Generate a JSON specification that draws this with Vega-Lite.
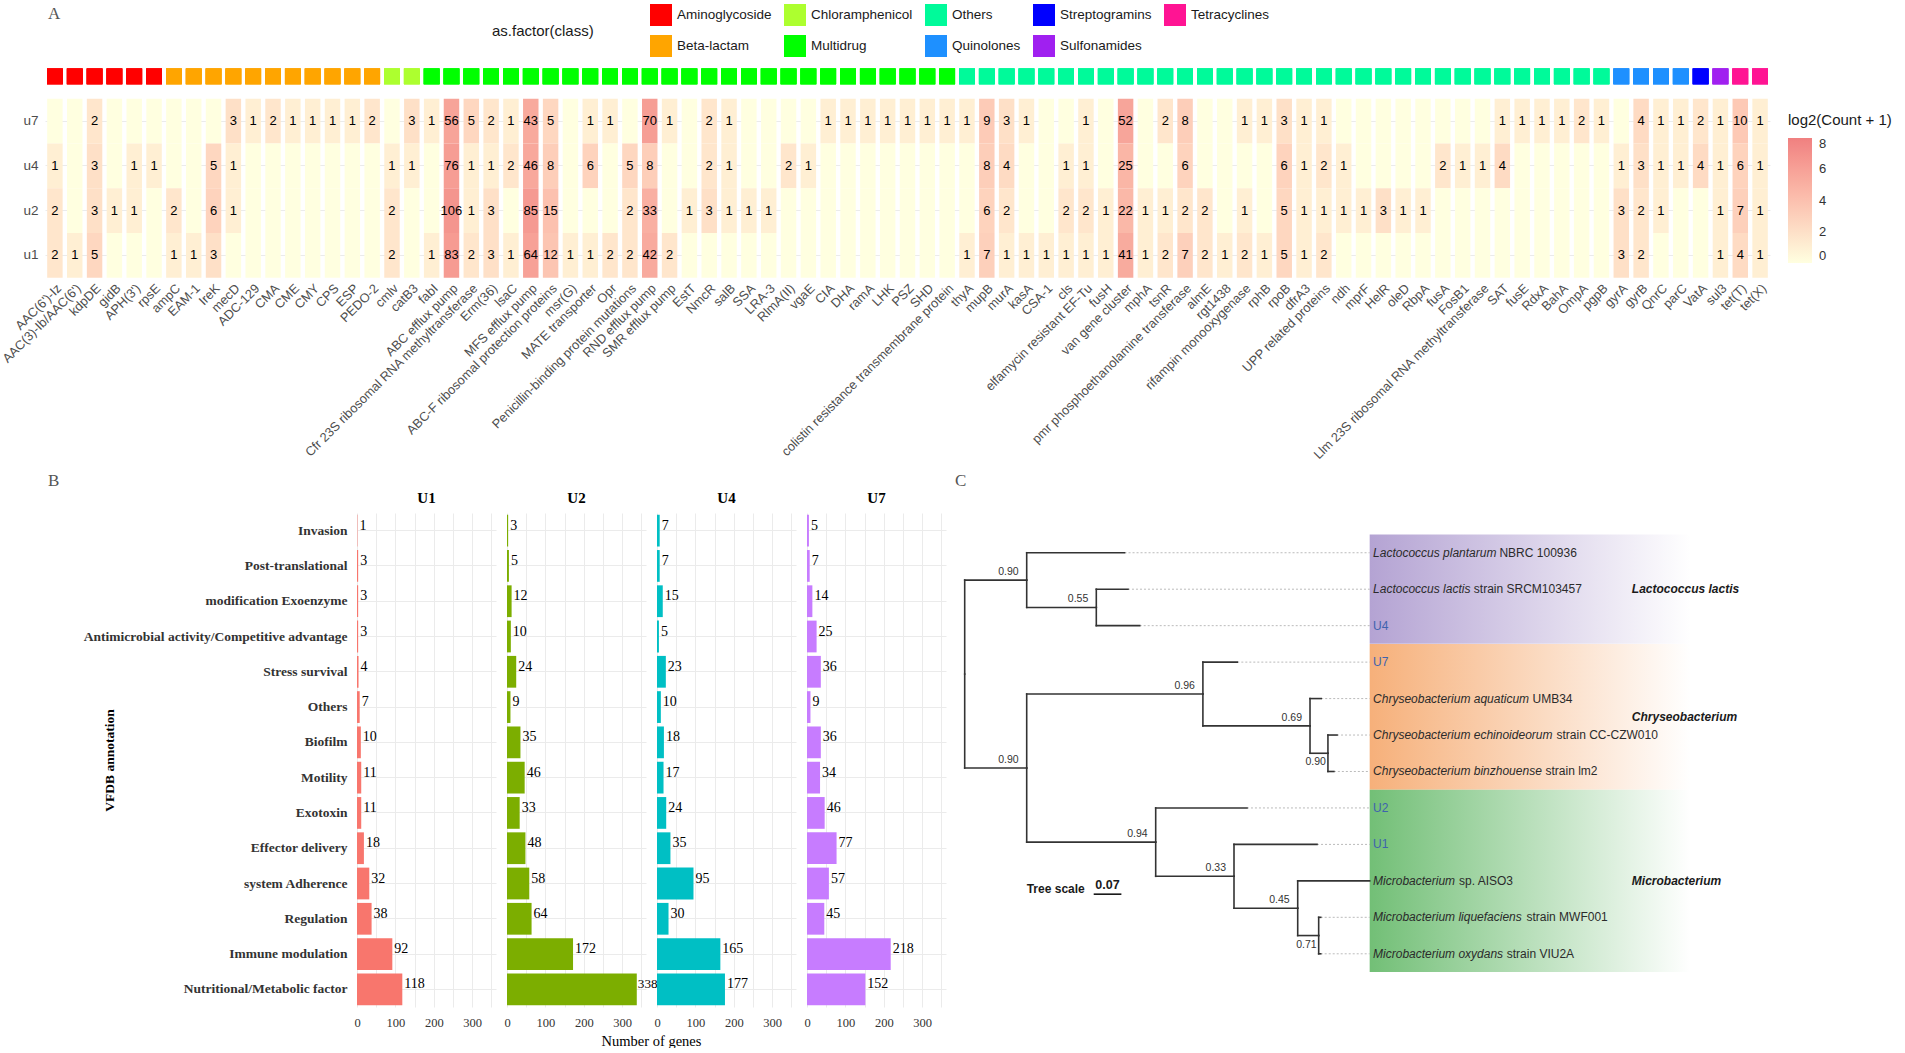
{
  "$schema": "https://vega.github.io/schema/vega-lite/v6.json",
  "background": "white",
  "padding": {"left": 0, "top": 4, "right": 0, "bottom": 0},
  "config": {
    "view": {"stroke": null},
    "font": "Liberation Sans"
  },
  "datasets": {
    "genes": [
      {"g": "AAC(6')-Iz", "c": "Aminoglycoside", "u7": 0, "u4": 1, "u2": 2, "u1": 2},
      {"g": "AAC(3)-Ib/AAC(6')", "c": "Aminoglycoside", "u7": 0, "u4": 0, "u2": 0, "u1": 1},
      {"g": "kdpDE", "c": "Aminoglycoside", "u7": 2, "u4": 3, "u2": 3, "u1": 5},
      {"g": "gidB", "c": "Aminoglycoside", "u7": 0, "u4": 0, "u2": 1, "u1": 0},
      {"g": "APH(3')", "c": "Aminoglycoside", "u7": 0, "u4": 1, "u2": 1, "u1": 0},
      {"g": "rpsE", "c": "Aminoglycoside", "u7": 0, "u4": 1, "u2": 0, "u1": 0},
      {"g": "ampC", "c": "Beta-lactam", "u7": 0, "u4": 0, "u2": 2, "u1": 1},
      {"g": "EAM-1", "c": "Beta-lactam", "u7": 0, "u4": 0, "u2": 0, "u1": 1},
      {"g": "IreK", "c": "Beta-lactam", "u7": 0, "u4": 5, "u2": 6, "u1": 3},
      {"g": "mecD", "c": "Beta-lactam", "u7": 3, "u4": 1, "u2": 1, "u1": 0},
      {"g": "ADC-129", "c": "Beta-lactam", "u7": 1, "u4": 0, "u2": 0, "u1": 0},
      {"g": "CMA", "c": "Beta-lactam", "u7": 2, "u4": 0, "u2": 0, "u1": 0},
      {"g": "CME", "c": "Beta-lactam", "u7": 1, "u4": 0, "u2": 0, "u1": 0},
      {"g": "CMY", "c": "Beta-lactam", "u7": 1, "u4": 0, "u2": 0, "u1": 0},
      {"g": "CPS", "c": "Beta-lactam", "u7": 1, "u4": 0, "u2": 0, "u1": 0},
      {"g": "ESP", "c": "Beta-lactam", "u7": 1, "u4": 0, "u2": 0, "u1": 0},
      {"g": "PEDO-2", "c": "Beta-lactam", "u7": 2, "u4": 0, "u2": 0, "u1": 0},
      {"g": "cmlv", "c": "Chloramphenicol", "u7": 0, "u4": 1, "u2": 2, "u1": 2},
      {"g": "catB3", "c": "Chloramphenicol", "u7": 3, "u4": 1, "u2": 0, "u1": 0},
      {"g": "fabI", "c": "Multidrug", "u7": 1, "u4": 0, "u2": 0, "u1": 1},
      {"g": "ABC efflux pump", "c": "Multidrug", "u7": 56, "u4": 76, "u2": 106, "u1": 83},
      {"g": "Cfr 23S ribosomal RNA methyltransferase", "c": "Multidrug", "u7": 5, "u4": 1, "u2": 1, "u1": 2},
      {"g": "Erm(36)", "c": "Multidrug", "u7": 2, "u4": 1, "u2": 3, "u1": 3},
      {"g": "lsaC", "c": "Multidrug", "u7": 1, "u4": 2, "u2": 0, "u1": 1},
      {"g": "MFS efflux pump", "c": "Multidrug", "u7": 43, "u4": 46, "u2": 85, "u1": 64},
      {"g": "ABC-F ribosomal protection proteins", "c": "Multidrug", "u7": 5, "u4": 8, "u2": 15, "u1": 12},
      {"g": "msr(G)", "c": "Multidrug", "u7": 0, "u4": 0, "u2": 0, "u1": 1},
      {"g": "MATE transporter", "c": "Multidrug", "u7": 1, "u4": 6, "u2": 0, "u1": 1},
      {"g": "Opr", "c": "Multidrug", "u7": 1, "u4": 0, "u2": 0, "u1": 2},
      {"g": "Penicillin-binding protein mutations", "c": "Multidrug", "u7": 0, "u4": 5, "u2": 2, "u1": 2},
      {"g": "RND efflux pump", "c": "Multidrug", "u7": 70, "u4": 8, "u2": 33, "u1": 42},
      {"g": "SMR efflux pump", "c": "Multidrug", "u7": 1, "u4": 0, "u2": 0, "u1": 2},
      {"g": "EstT", "c": "Multidrug", "u7": 0, "u4": 0, "u2": 1, "u1": 0},
      {"g": "NmcR", "c": "Multidrug", "u7": 2, "u4": 2, "u2": 3, "u1": 0},
      {"g": "salB", "c": "Multidrug", "u7": 1, "u4": 1, "u2": 1, "u1": 0},
      {"g": "SSA", "c": "Multidrug", "u7": 0, "u4": 0, "u2": 1, "u1": 0},
      {"g": "LRA-3", "c": "Multidrug", "u7": 0, "u4": 0, "u2": 1, "u1": 0},
      {"g": "RlmA(II)", "c": "Multidrug", "u7": 0, "u4": 2, "u2": 0, "u1": 0},
      {"g": "vgaE", "c": "Multidrug", "u7": 0, "u4": 1, "u2": 0, "u1": 0},
      {"g": "CIA", "c": "Multidrug", "u7": 1, "u4": 0, "u2": 0, "u1": 0},
      {"g": "DHA", "c": "Multidrug", "u7": 1, "u4": 0, "u2": 0, "u1": 0},
      {"g": "ramA", "c": "Multidrug", "u7": 1, "u4": 0, "u2": 0, "u1": 0},
      {"g": "LHK", "c": "Multidrug", "u7": 1, "u4": 0, "u2": 0, "u1": 0},
      {"g": "PSZ", "c": "Multidrug", "u7": 1, "u4": 0, "u2": 0, "u1": 0},
      {"g": "SHD", "c": "Multidrug", "u7": 1, "u4": 0, "u2": 0, "u1": 0},
      {"g": "colistin resistance transmembrane protein", "c": "Multidrug", "u7": 1, "u4": 0, "u2": 0, "u1": 0},
      {"g": "thyA", "c": "Others", "u7": 1, "u4": 0, "u2": 0, "u1": 1},
      {"g": "mupB", "c": "Others", "u7": 9, "u4": 8, "u2": 6, "u1": 7},
      {"g": "murA", "c": "Others", "u7": 3, "u4": 4, "u2": 2, "u1": 1},
      {"g": "kasA", "c": "Others", "u7": 1, "u4": 0, "u2": 0, "u1": 1},
      {"g": "CSA-1", "c": "Others", "u7": 0, "u4": 0, "u2": 0, "u1": 1},
      {"g": "cls", "c": "Others", "u7": 0, "u4": 1, "u2": 2, "u1": 1},
      {"g": "elfamycin resistant EF-Tu", "c": "Others", "u7": 1, "u4": 1, "u2": 2, "u1": 1},
      {"g": "fusH", "c": "Others", "u7": 0, "u4": 0, "u2": 1, "u1": 1},
      {"g": "van gene cluster", "c": "Others", "u7": 52, "u4": 25, "u2": 22, "u1": 41},
      {"g": "mphA", "c": "Others", "u7": 0, "u4": 0, "u2": 1, "u1": 1},
      {"g": "tsnR", "c": "Others", "u7": 2, "u4": 0, "u2": 1, "u1": 2},
      {"g": "pmr phosphoethanolamine transferase", "c": "Others", "u7": 8, "u4": 6, "u2": 2, "u1": 7},
      {"g": "almE", "c": "Others", "u7": 0, "u4": 0, "u2": 2, "u1": 2},
      {"g": "rgt1438", "c": "Others", "u7": 0, "u4": 0, "u2": 0, "u1": 1},
      {"g": "rifampin monooxygenase", "c": "Others", "u7": 1, "u4": 0, "u2": 1, "u1": 2},
      {"g": "rphB", "c": "Others", "u7": 1, "u4": 0, "u2": 0, "u1": 1},
      {"g": "rpoB", "c": "Others", "u7": 3, "u4": 6, "u2": 5, "u1": 5},
      {"g": "dfrA3", "c": "Others", "u7": 1, "u4": 1, "u2": 1, "u1": 1},
      {"g": "UPP related proteins", "c": "Others", "u7": 1, "u4": 2, "u2": 1, "u1": 2},
      {"g": "ndh", "c": "Others", "u7": 0, "u4": 1, "u2": 1, "u1": 0},
      {"g": "mprF", "c": "Others", "u7": 0, "u4": 0, "u2": 1, "u1": 0},
      {"g": "HelR", "c": "Others", "u7": 0, "u4": 0, "u2": 3, "u1": 0},
      {"g": "oleD", "c": "Others", "u7": 0, "u4": 0, "u2": 1, "u1": 0},
      {"g": "RbpA", "c": "Others", "u7": 0, "u4": 0, "u2": 1, "u1": 0},
      {"g": "fusA", "c": "Others", "u7": 0, "u4": 2, "u2": 0, "u1": 0},
      {"g": "FosB1", "c": "Others", "u7": 0, "u4": 1, "u2": 0, "u1": 0},
      {"g": "Llm 23S ribosomal RNA methyltransferase", "c": "Others", "u7": 0, "u4": 1, "u2": 0, "u1": 0},
      {"g": "SAT", "c": "Others", "u7": 1, "u4": 4, "u2": 0, "u1": 0},
      {"g": "fusE", "c": "Others", "u7": 1, "u4": 0, "u2": 0, "u1": 0},
      {"g": "RdxA", "c": "Others", "u7": 1, "u4": 0, "u2": 0, "u1": 0},
      {"g": "BahA", "c": "Others", "u7": 1, "u4": 0, "u2": 0, "u1": 0},
      {"g": "OmpA", "c": "Others", "u7": 2, "u4": 0, "u2": 0, "u1": 0},
      {"g": "pgpB", "c": "Others", "u7": 1, "u4": 0, "u2": 0, "u1": 0},
      {"g": "gyrA", "c": "Quinolones", "u7": 0, "u4": 1, "u2": 3, "u1": 3},
      {"g": "gyrB", "c": "Quinolones", "u7": 4, "u4": 3, "u2": 2, "u1": 2},
      {"g": "QnrC", "c": "Quinolones", "u7": 1, "u4": 1, "u2": 1, "u1": 0},
      {"g": "parC", "c": "Quinolones", "u7": 1, "u4": 1, "u2": 0, "u1": 0},
      {"g": "VatA", "c": "Streptogramins", "u7": 2, "u4": 4, "u2": 0, "u1": 0},
      {"g": "sul3", "c": "Sulfonamides", "u7": 1, "u4": 1, "u2": 1, "u1": 1},
      {"g": "tet(T)", "c": "Tetracyclines", "u7": 10, "u4": 6, "u2": 7, "u1": 4},
      {"g": "tet(X)", "c": "Tetracyclines", "u7": 1, "u4": 1, "u2": 1, "u1": 1}
    ],
    "vf": [
      {"cat": "Invasion", "U1": 1, "U2": 3, "U4": 7, "U7": 5},
      {"cat": "Post-translational", "U1": 3, "U2": 5, "U4": 7, "U7": 7},
      {"cat": "modification Exoenzyme", "U1": 3, "U2": 12, "U4": 15, "U7": 14},
      {"cat": "Antimicrobial activity/Competitive advantage", "U1": 3, "U2": 10, "U4": 5, "U7": 25},
      {"cat": "Stress survival", "U1": 4, "U2": 24, "U4": 23, "U7": 36},
      {"cat": "Others", "U1": 7, "U2": 9, "U4": 10, "U7": 9},
      {"cat": "Biofilm", "U1": 10, "U2": 35, "U4": 18, "U7": 36},
      {"cat": "Motility", "U1": 11, "U2": 46, "U4": 17, "U7": 34},
      {"cat": "Exotoxin", "U1": 11, "U2": 33, "U4": 24, "U7": 46},
      {"cat": "Effector delivery", "U1": 18, "U2": 48, "U4": 35, "U7": 77},
      {"cat": "system Adherence", "U1": 32, "U2": 58, "U4": 95, "U7": 57},
      {"cat": "Regulation", "U1": 38, "U2": 64, "U4": 30, "U7": 45},
      {"cat": "Immune modulation", "U1": 92, "U2": 172, "U4": 165, "U7": 218},
      {"cat": "Nutritional/Metabolic factor", "U1": 118, "U2": 338, "U4": 177, "U7": 152}
    ],
    "tree": [
      {"id": "root", "x": 0, "y": 3.328},
      {"id": "A", "parent": "root", "x": 0.1567, "y": 0.75, "support": 0.90},
      {"id": "B", "parent": "A", "x": 0.3326, "y": 1.5, "support": 0.55},
      {"id": "t0", "parent": "A", "x": 0.404, "y": 0, "sp": "Lactococcus plantarum", "st": "NBRC 100936", "clade": "Lactococcus lactis"},
      {"id": "t1", "parent": "B", "x": 0.4127, "y": 1, "sp": "Lactococcus lactis", "st": "strain SRCM103457", "clade": "Lactococcus lactis"},
      {"id": "t2", "parent": "B", "x": 0.4423, "y": 2, "smp": "U4", "clade": "Lactococcus lactis"},
      {"id": "C", "parent": "root", "x": 0.1567, "y": 5.906, "support": 0.90},
      {"id": "D", "parent": "C", "x": 0.602, "y": 3.875, "support": 0.96},
      {"id": "t3", "parent": "D", "x": 0.689, "y": 3, "smp": "U7", "clade": "Chryseobacterium"},
      {"id": "E", "parent": "D", "x": 0.8727, "y": 4.75, "support": 0.69},
      {"id": "t4", "parent": "E", "x": 0.901, "y": 4, "sp": "Chryseobacterium aquaticum", "st": "UMB34", "clade": "Chryseobacterium"},
      {"id": "F", "parent": "E", "x": 0.918, "y": 5.5, "support": 0.90},
      {"id": "t5", "parent": "F", "x": 0.941, "y": 5, "sp": "Chryseobacterium echinoideorum", "st": "strain CC-CZW010", "clade": "Chryseobacterium"},
      {"id": "t6", "parent": "F", "x": 0.933, "y": 6, "sp": "Chryseobacterium binzhouense", "st": "strain lm2", "clade": "Chryseobacterium"},
      {"id": "G", "parent": "C", "x": 0.4827, "y": 7.9375, "support": 0.94},
      {"id": "t7", "parent": "G", "x": 0.7134, "y": 7, "smp": "U2", "clade": "Microbacterium"},
      {"id": "H", "parent": "G", "x": 0.6806, "y": 8.875, "support": 0.33},
      {"id": "t8", "parent": "H", "x": 0.8904, "y": 8, "smp": "U1", "clade": "Microbacterium"},
      {"id": "I", "parent": "H", "x": 0.8416, "y": 9.75, "support": 0.45},
      {"id": "t9", "parent": "I", "x": 1.0235, "y": 9, "sp": "Microbacterium", "st": "sp. AISO3", "clade": "Microbacterium"},
      {"id": "J", "parent": "I", "x": 0.8946, "y": 10.5, "support": 0.71},
      {"id": "t10", "parent": "J", "x": 0.8997, "y": 10, "sp": "Microbacterium liquefaciens", "st": "strain MWF001", "clade": "Microbacterium"},
      {"id": "t11", "parent": "J", "x": 0.8997, "y": 11, "sp": "Microbacterium oxydans", "st": "strain VIU2A", "clade": "Microbacterium"}
    ]
  },
  "bounds": "flush",
  "spacing": 235,
  "vconcat": [
    {
      "width": 1725,
      "height": 223.75,
      "data": {"name": "genes"},
      "title": {"text": "A", "anchor": "start", "frame": "group", "font": "Liberation Serif", "fontSize": 17, "fontWeight": "normal", "color": "#555555", "dx": 3, "baseline": "bottom", "offset": 0, "dy": 36},
      "transform": [{"fold": ["u7", "u4", "u2", "u1"], "as": ["sample", "count"]}],
      "resolve": {"scale": {"color": "independent"}, "legend": {"color": "independent"}},
      "encoding": {
        "x": {
          "field": "g", "type": "nominal", "sort": null,
          "scale": {"paddingInner": 0.22, "paddingOuter": 0.11},
          "axis": {"title": null, "labelAngle": -45, "labelAlign": "right", "labelBaseline": "top", "labelFont": "Liberation Sans", "labelFontSize": 12.8, "labelColor": "#4D4D4D", "labelLimit": 0, "labelOverlap": false, "labelPadding": 4, "ticks": false, "domain": false, "grid": false}
        },
        "y": {
          "field": "sample", "type": "nominal",
          "scale": {"domain": ["cls", "u7", "u4", "u2", "u1"], "paddingInner": 0, "paddingOuter": 0},
          "axis": {"title": null, "labelExpr": "datum.value === 'cls' ? '' : datum.label", "labelFont": "Liberation Sans", "labelFontSize": 13.5, "labelColor": "#4D4D4D", "labelPadding": 7, "ticks": false, "domain": false, "grid": true, "gridColor": "#EBEBEB", "gridOpacity": {"condition": {"test": "datum.value === 'cls'", "value": 0}, "value": 1}, "bandPosition": 0.5}
        }
      },
      "layer": [
        {
          "mark": {"type": "square", "size": 250, "opacity": 1, "filled": true},
          "encoding": {
            "y": {"datum": "cls", "type": "nominal"},
            "color": {
              "field": "c",
              "type": "nominal",
              "scale": {
                "domain": ["Aminoglycoside", "Beta-lactam", "Chloramphenicol", "Multidrug", "Others", "Quinolones", "Streptogramins", "Sulfonamides", "Tetracyclines"],
                "range": ["#FF0000", "#FFA500", "#ADFF2F", "#00FF00", "#00FA9A", "#1E90FF", "#0000FF", "#A020F0", "#FF1493"]
              },
              "legend": {
                "title": "as.factor(class)",
                "orient": "none",
                "legendX": 447,
                "legendY": -50,
                "columns": 5,
                "symbolType": "square",
                "symbolSize": 484,
                "symbolStrokeWidth": 0,
                "symbolOpacity": 1,
                "titleOrient": "left",
                "titlePadding": 56,
                "titleFont": "Liberation Sans",
                "titleFontSize": 15,
                "titleFontWeight": "normal",
                "titleColor": "#1A1A1A",
                "labelFont": "Liberation Sans",
                "labelFontSize": 13.5,
                "labelColor": "#1A1A1A",
                "labelOffset": 5,
                "rowPadding": 9,
                "columnPadding": 12
              }
            }
          }
        },
        {
          "mark": {"type": "rect"},
          "encoding": {
            "color": {
              "field": "count", "type": "quantitative",
              "scale": {"type": "symlog", "constant": 1, "domain": [0, 255], "range": ["#FFFFE0", "#F08080"], "interpolate": "lab"},
              "legend": {
                "title": "log2(Count + 1)",
                "orient": "none",
                "legendX": 1743,
                "legendY": 59,
                "direction": "vertical",
                "gradientLength": 125,
                "gradientThickness": 24,
                "gradientStrokeWidth": 0,
                "values": [0, 3, 15, 63, 255],
                "labelExpr": "format(log(datum.value + 1) / LN2, '.0f')",
                "titleFont": "Liberation Sans",
                "titleFontSize": 15,
                "titleFontWeight": "normal",
                "titleColor": "#1A1A1A",
                "titlePadding": 10,
                "labelFont": "Liberation Sans",
                "labelFontSize": 13,
                "labelColor": "#333333",
                "labelOffset": 7
              }
            }
          }
        },
        {
          "mark": {"type": "text", "font": "Liberation Sans", "fontSize": 13, "color": "#000000", "baseline": "middle"},
          "encoding": {
            "text": {"condition": {"test": "datum.count > 0", "field": "count", "type": "quantitative"}, "value": ""}
          }
        }
      ]
    },
    {
      "bounds": "flush",
      "spacing": 11,
      "hconcat": [
        {
          "width": 301,
          "height": 494,
          "data": {"values": [{"blank": 1}]},
          "title": {"text": "B", "anchor": "start", "frame": "group", "font": "Liberation Serif", "fontSize": 17, "fontWeight": "normal", "color": "#555555", "dx": 3, "baseline": "bottom", "offset": 6},
          "mark": {"type": "point", "opacity": 0},
          "encoding": {}
        },
        {
          "width": 139, "height": 494,
          "data": {"name": "vf"},
          "title": {"text": "U1", "font": "Liberation Serif", "fontSize": 15, "fontWeight": "bold", "color": "#000000", "baseline": "bottom", "offset": -8},
          "encoding": {
            "y": {"field": "cat", "type": "nominal", "sort": null, "scale": {"paddingInner": 0.1, "paddingOuter": 0.05},
              "axis": {"title": "VFDB annotation", "titleFont": "Liberation Serif", "titleFontSize": 13.5, "titleFontWeight": "bold", "titleColor": "#000000", "titleX": -241, "labelFont": "Liberation Serif", "labelFontSize": 13.5, "labelFontWeight": "bold", "labelColor": "#333333", "labelPadding": 10, "labelLimit": 0, "ticks": false, "domain": false, "grid": true, "gridColor": "#EBEBEB", "bandPosition": 0.5}},
            "x": {"field": "U1", "type": "quantitative", "scale": {"domain": [0, 362], "nice": false},
              "axis": {"title": null, "values": [0, 50, 100, 150, 200, 250, 300, 350], "labelExpr": "datum.value % 100 === 0 ? datum.label : ''", "labelFlush": false, "labelFont": "Liberation Serif", "labelFontSize": 12.5, "labelColor": "#333333", "labelPadding": 9, "ticks": false, "domain": false, "grid": true, "gridColor": "#EBEBEB"}}
          },
          "layer": [
            {"mark": {"type": "bar", "color": "#F8766D"}},
            {"mark": {"type": "text", "align": "left", "baseline": "middle", "dx": 2, "dy": -5, "font": "Liberation Serif", "fontSize": 14, "color": "#000000"}, "encoding": {"text": {"field": "U1", "type": "quantitative"}}}
          ]
        },
        {
          "width": 139, "height": 494,
          "data": {"name": "vf"},
          "title": {"text": "U2", "font": "Liberation Serif", "fontSize": 15, "fontWeight": "bold", "color": "#000000", "baseline": "bottom", "offset": -8},
          "encoding": {
            "y": {"field": "cat", "type": "nominal", "sort": null, "scale": {"paddingInner": 0.1, "paddingOuter": 0.05},
              "axis": {"title": null, "labels": false, "ticks": false, "domain": false, "grid": true, "gridColor": "#EBEBEB", "bandPosition": 0.5}},
            "x": {"field": "U2", "type": "quantitative", "scale": {"domain": [0, 362], "nice": false},
              "axis": {"title": "Number of genes", "titleX": 144, "titleFont": "Liberation Serif", "titleFontSize": 14.5, "titleFontWeight": "normal", "titleColor": "#000000", "titlePadding": 6, "values": [0, 50, 100, 150, 200, 250, 300, 350], "labelExpr": "datum.value % 100 === 0 ? datum.label : ''", "labelFlush": false, "labelFont": "Liberation Serif", "labelFontSize": 12.5, "labelColor": "#333333", "labelPadding": 9, "ticks": false, "domain": false, "grid": true, "gridColor": "#EBEBEB"}}
          },
          "layer": [
            {"mark": {"type": "bar", "color": "#7CAE00"}},
            {"mark": {"type": "text", "align": "left", "baseline": "middle", "dx": {"expr": "datum.U2 > 300 ? 1 : 2"}, "dy": -5, "font": "Liberation Serif", "fontSize": {"expr": "datum.U2 > 300 ? 13.2 : 14"}, "color": "#000000"}, "encoding": {"text": {"field": "U2", "type": "quantitative"}}}
          ]
        },
        {
          "width": 139, "height": 494,
          "data": {"name": "vf"},
          "title": {"text": "U4", "font": "Liberation Serif", "fontSize": 15, "fontWeight": "bold", "color": "#000000", "baseline": "bottom", "offset": -8},
          "encoding": {
            "y": {"field": "cat", "type": "nominal", "sort": null, "scale": {"paddingInner": 0.1, "paddingOuter": 0.05},
              "axis": {"title": null, "labels": false, "ticks": false, "domain": false, "grid": true, "gridColor": "#EBEBEB", "bandPosition": 0.5}},
            "x": {"field": "U4", "type": "quantitative", "scale": {"domain": [0, 362], "nice": false},
              "axis": {"title": null, "values": [0, 50, 100, 150, 200, 250, 300, 350], "labelExpr": "datum.value % 100 === 0 ? datum.label : ''", "labelFlush": false, "labelFont": "Liberation Serif", "labelFontSize": 12.5, "labelColor": "#333333", "labelPadding": 9, "ticks": false, "domain": false, "grid": true, "gridColor": "#EBEBEB"}}
          },
          "layer": [
            {"mark": {"type": "bar", "color": "#00BFC4"}},
            {"mark": {"type": "text", "align": "left", "baseline": "middle", "dx": 2, "dy": -5, "font": "Liberation Serif", "fontSize": 14, "color": "#000000"}, "encoding": {"text": {"field": "U4", "type": "quantitative"}}}
          ]
        },
        {
          "width": 139, "height": 494,
          "data": {"name": "vf"},
          "title": {"text": "U7", "font": "Liberation Serif", "fontSize": 15, "fontWeight": "bold", "color": "#000000", "baseline": "bottom", "offset": -8},
          "encoding": {
            "y": {"field": "cat", "type": "nominal", "sort": null, "scale": {"paddingInner": 0.1, "paddingOuter": 0.05},
              "axis": {"title": null, "labels": false, "ticks": false, "domain": false, "grid": true, "gridColor": "#EBEBEB", "bandPosition": 0.5}},
            "x": {"field": "U7", "type": "quantitative", "scale": {"domain": [0, 362], "nice": false},
              "axis": {"title": null, "values": [0, 50, 100, 150, 200, 250, 300, 350], "labelExpr": "datum.value % 100 === 0 ? datum.label : ''", "labelFlush": false, "labelFont": "Liberation Serif", "labelFontSize": 12.5, "labelColor": "#333333", "labelPadding": 9, "ticks": false, "domain": false, "grid": true, "gridColor": "#EBEBEB"}}
          },
          "layer": [
            {"mark": {"type": "bar", "color": "#C77CFF"}},
            {"mark": {"type": "text", "align": "left", "baseline": "middle", "dx": 2, "dy": -5, "font": "Liberation Serif", "fontSize": 14, "color": "#000000"}, "encoding": {"text": {"field": "U7", "type": "quantitative"}}}
          ]
        },
        {
          "width": 941,
          "height": 495,
          "data": {"name": "tree"},
          "title": {"text": "C", "anchor": "start", "frame": "group", "font": "Liberation Serif", "fontSize": 17, "fontWeight": "normal", "color": "#555555", "dx": -2, "baseline": "bottom", "offset": 6},
          "layer": [
            {
              "transform": [{"filter": "datum.clade === 'Lactococcus lactis'"}, {"aggregate": [{"op": "min", "field": "y", "as": "y0"}, {"op": "max", "field": "y", "as": "y1"}], "groupby": ["clade"]}],
              "mark": {"type": "rect", "yOffset": -18.2, "y2Offset": 18.2, "color": {"gradient": "linear", "x1": 0, "x2": 1, "y1": 0, "y2": 0, "stops": [{"offset": 0, "color": "#B4A3D3"}, {"offset": 1, "color": "#FFFFFF"}]}},
              "encoding": {
                "x": {"datum": 1.0235, "type": "quantitative", "scale": {"domain": [-0.01946, 2.3587], "nice": false, "zero": false}, "axis": null},
                "x2": {"datum": 1.835},
                "y": {"field": "y0", "type": "quantitative", "scale": {"domain": [-1.09, 12.487], "reverse": true, "nice": false, "zero": false}, "axis": null},
                "y2": {"field": "y1"}
              }
            },
            {
              "transform": [{"filter": "datum.clade === 'Chryseobacterium'"}, {"aggregate": [{"op": "min", "field": "y", "as": "y0"}, {"op": "max", "field": "y", "as": "y1"}], "groupby": ["clade"]}],
              "mark": {"type": "rect", "yOffset": -18.2, "y2Offset": 18.2, "color": {"gradient": "linear", "x1": 0, "x2": 1, "y1": 0, "y2": 0, "stops": [{"offset": 0, "color": "#F6B07A"}, {"offset": 1, "color": "#FFFFFF"}]}},
              "encoding": {
                "x": {"datum": 1.0235, "type": "quantitative", "scale": {"domain": [-0.01946, 2.3587], "nice": false, "zero": false}, "axis": null},
                "x2": {"datum": 1.835},
                "y": {"field": "y0", "type": "quantitative", "scale": {"domain": [-1.09, 12.487], "reverse": true, "nice": false, "zero": false}, "axis": null},
                "y2": {"field": "y1"}
              }
            },
            {
              "transform": [{"filter": "datum.clade === 'Microbacterium'"}, {"aggregate": [{"op": "min", "field": "y", "as": "y0"}, {"op": "max", "field": "y", "as": "y1"}], "groupby": ["clade"]}],
              "mark": {"type": "rect", "yOffset": -18.2, "y2Offset": 18.2, "color": {"gradient": "linear", "x1": 0, "x2": 1, "y1": 0, "y2": 0, "stops": [{"offset": 0, "color": "#72BF76"}, {"offset": 1, "color": "#FFFFFF"}]}},
              "encoding": {
                "x": {"datum": 1.0235, "type": "quantitative", "scale": {"domain": [-0.01946, 2.3587], "nice": false, "zero": false}, "axis": null},
                "x2": {"datum": 1.835},
                "y": {"field": "y0", "type": "quantitative", "scale": {"domain": [-1.09, 12.487], "reverse": true, "nice": false, "zero": false}, "axis": null},
                "y2": {"field": "y1"}
              }
            },
            {
              "transform": [{"filter": "isValid(datum.clade)"}],
              "mark": {"type": "rule", "color": "#AAAAAA", "strokeWidth": 0.8, "strokeDash": [2, 2]},
              "encoding": {
                "x": {"field": "x", "type": "quantitative", "scale": {"domain": [-0.01946, 2.3587], "nice": false, "zero": false}, "axis": null},
                "x2": {"datum": 1.0235},
                "y": {"field": "y", "type": "quantitative", "scale": {"domain": [-1.09, 12.487], "reverse": true, "nice": false, "zero": false}, "axis": null}
              }
            },
            {
              "transform": [{"filter": "isValid(datum.parent)"}, {"lookup": "parent", "from": {"data": {"name": "tree"}, "key": "id", "fields": ["x", "y"]}, "as": ["px", "py"]}],
              "mark": {"type": "rule", "color": "#333333", "strokeWidth": 1.6, "strokeCap": "square"},
              "encoding": {
                "x": {"field": "px", "type": "quantitative", "scale": {"domain": [-0.01946, 2.3587], "nice": false, "zero": false}, "axis": null},
                "x2": {"field": "x"},
                "y": {"field": "y", "type": "quantitative", "scale": {"domain": [-1.09, 12.487], "reverse": true, "nice": false, "zero": false}, "axis": null}
              }
            },
            {
              "transform": [{"filter": "isValid(datum.parent)"}, {"lookup": "parent", "from": {"data": {"name": "tree"}, "key": "id", "fields": ["x", "y"]}, "as": ["px", "py"]}],
              "mark": {"type": "rule", "color": "#333333", "strokeWidth": 1.6, "strokeCap": "square"},
              "encoding": {
                "x": {"field": "px", "type": "quantitative", "scale": {"domain": [-0.01946, 2.3587], "nice": false, "zero": false}, "axis": null},
                "y": {"field": "py", "type": "quantitative", "scale": {"domain": [-1.09, 12.487], "reverse": true, "nice": false, "zero": false}, "axis": null},
                "y2": {"field": "y"}
              }
            },
            {
              "transform": [{"filter": "isValid(datum.support) && datum.id !== 'F' && datum.id !== 'J'"}],
              "mark": {"type": "text", "align": "right", "baseline": "bottom", "dx": -8, "dy": -3, "font": "Liberation Sans", "fontSize": 10.5, "color": "#333333"},
              "encoding": {
                "x": {"field": "x", "type": "quantitative", "scale": {"domain": [-0.01946, 2.3587], "nice": false, "zero": false}, "axis": null},
                "y": {"field": "y", "type": "quantitative", "scale": {"domain": [-1.09, 12.487], "reverse": true, "nice": false, "zero": false}, "axis": null},
                "text": {"field": "support", "type": "quantitative", "format": ".2f"}
              }
            },
            {
              "transform": [{"filter": "datum.id === 'F' || datum.id === 'J'"}],
              "mark": {"type": "text", "align": "right", "baseline": "top", "dx": -2, "dy": 4, "font": "Liberation Sans", "fontSize": 10.5, "color": "#333333"},
              "encoding": {
                "x": {"field": "x", "type": "quantitative", "scale": {"domain": [-0.01946, 2.3587], "nice": false, "zero": false}, "axis": null},
                "y": {"field": "y", "type": "quantitative", "scale": {"domain": [-1.09, 12.487], "reverse": true, "nice": false, "zero": false}, "axis": null},
                "text": {"field": "support", "type": "quantitative", "format": ".2f"}
              }
            },
            {
              "transform": [{"filter": "isValid(datum.sp)"}],
              "mark": {"type": "text", "align": "left", "baseline": "middle", "font": "Liberation Sans", "fontSize": 12, "fontStyle": "italic", "color": "#2B2B2B"},
              "encoding": {
                "x": {"datum": 1.032, "type": "quantitative", "scale": {"domain": [-0.01946, 2.3587], "nice": false, "zero": false}, "axis": null},
                "y": {"field": "y", "type": "quantitative", "scale": {"domain": [-1.09, 12.487], "reverse": true, "nice": false, "zero": false}, "axis": null},
                "text": {"field": "sp"}
              }
            },
            {
              "transform": [{"filter": "isValid(datum.st)"}],
              "mark": {"type": "text", "align": "left", "baseline": "middle", "font": "Liberation Sans", "fontSize": 12, "color": "#2B2B2B",
                "dx": {"expr": "12 * (0.556 * length(datum.sp) - 0.3 * (length(datum.sp) - length(replace(datum.sp, regexp('[iltfj ]', 'g'), ''))) - 0.223 * (length(datum.sp) - length(replace(datum.sp, regexp('r', 'g'), ''))) - 0.056 * (length(datum.sp) - length(replace(datum.sp, regexp('[csyzxkv]', 'g'), ''))) + 0.277 * (length(datum.sp) - length(replace(datum.sp, regexp('[mM]', 'g'), ''))) + 0.166 * (length(datum.sp) - length(replace(datum.sp, regexp('C', 'g'), '')))) + 3.4"}},
              "encoding": {
                "x": {"datum": 1.032, "type": "quantitative", "scale": {"domain": [-0.01946, 2.3587], "nice": false, "zero": false}, "axis": null},
                "y": {"field": "y", "type": "quantitative", "scale": {"domain": [-1.09, 12.487], "reverse": true, "nice": false, "zero": false}, "axis": null},
                "text": {"field": "st"}
              }
            },
            {
              "transform": [{"filter": "isValid(datum.smp)"}],
              "mark": {"type": "text", "align": "left", "baseline": "middle", "font": "Liberation Sans", "fontSize": 12, "color": "#3E63AE"},
              "encoding": {
                "x": {"datum": 1.032, "type": "quantitative", "scale": {"domain": [-0.01946, 2.3587], "nice": false, "zero": false}, "axis": null},
                "y": {"field": "y", "type": "quantitative", "scale": {"domain": [-1.09, 12.487], "reverse": true, "nice": false, "zero": false}, "axis": null},
                "text": {"field": "smp"}
              }
            },
            {
              "transform": [{"filter": "isValid(datum.clade)"}, {"aggregate": [{"op": "mean", "field": "y", "as": "ym"}], "groupby": ["clade"]}],
              "mark": {"type": "text", "align": "left", "baseline": "middle", "font": "Liberation Sans", "fontSize": 12, "fontStyle": "italic", "fontWeight": "bold", "color": "#1A1A1A"},
              "encoding": {
                "x": {"datum": 1.686, "type": "quantitative", "scale": {"domain": [-0.01946, 2.3587], "nice": false, "zero": false}, "axis": null},
                "y": {"field": "ym", "type": "quantitative", "scale": {"domain": [-1.09, 12.487], "reverse": true, "nice": false, "zero": false}, "axis": null},
                "text": {"field": "clade"}
              }
            },
            {
              "data": {"values": [{"label": "Tree scale"}]},
              "mark": {"type": "text", "align": "left", "baseline": "middle", "font": "Liberation Sans", "fontSize": 12, "fontWeight": "bold", "color": "#1A1A1A"},
              "encoding": {
                "x": {"datum": 0.1567, "type": "quantitative", "scale": {"domain": [-0.01946, 2.3587], "nice": false, "zero": false}, "axis": null},
                "y": {"datum": 9.226, "type": "quantitative", "scale": {"domain": [-1.09, 12.487], "reverse": true, "nice": false, "zero": false}, "axis": null},
                "text": {"field": "label"}
              }
            },
            {
              "data": {"values": [{"len": 0.07}]},
              "mark": {"type": "text", "align": "center", "baseline": "middle", "font": "Liberation Sans", "fontSize": 12.5, "fontWeight": "bold", "color": "#1A1A1A"},
              "encoding": {
                "x": {"datum": 0.361, "type": "quantitative", "scale": {"domain": [-0.01946, 2.3587], "nice": false, "zero": false}, "axis": null},
                "y": {"datum": 9.117, "type": "quantitative", "scale": {"domain": [-1.09, 12.487], "reverse": true, "nice": false, "zero": false}, "axis": null},
                "text": {"field": "len", "type": "quantitative", "format": ".2f"}
              }
            },
            {
              "data": {"values": [{"len": 0.07}]},
              "mark": {"type": "rule", "color": "#1A1A1A", "strokeWidth": 1.6},
              "encoding": {
                "x": {"datum": 0.326, "type": "quantitative", "scale": {"domain": [-0.01946, 2.3587], "nice": false, "zero": false}, "axis": null},
                "x2": {"datum": 0.396},
                "y": {"datum": 9.365, "type": "quantitative", "scale": {"domain": [-1.09, 12.487], "reverse": true, "nice": false, "zero": false}, "axis": null}
              }
            }
          ]
        }
      ]
    }
  ]
}
